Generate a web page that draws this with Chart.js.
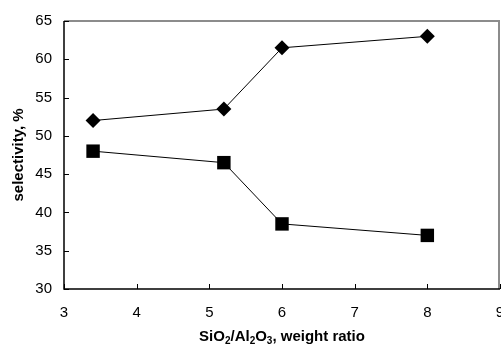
<!DOCTYPE html>
<html>
<head>
<meta charset="utf-8">
<script src="https://cdn.jsdelivr.net/npm/chart.js@4"></script>
<style>
  html, body { margin: 0; padding: 0; background: #fff; }
  #wrap { width: 501px; height: 348px; }
</style>
</head>
<body>
<div id="wrap"><canvas id="myChart" width="501" height="348"></canvas></div>
<script>
const ratios = [3.4, 5.2, 6, 8];
const upperSeries = [52, 53.5, 61.5, 63];
const lowerSeries = [48, 46.5, 38.5, 37];
const xTicks = [3, 4, 5, 6, 7, 8, 9];
const yTicks = [30, 35, 40, 45, 50, 55, 60, 65];

const FONT = '"Liberation Sans", Arial, sans-serif';

// frame, inside ticks, x labels and axis titles
const decor = {
    id: 'decor',
    beforeDatasetsDraw(chart) {
        const c = chart.ctx, a = chart.chartArea;
        const x = chart.scales.x, y = chart.scales.y;
        c.save();
        c.strokeStyle = '#8c8c8c';
        c.lineWidth = 2;
        c.beginPath();
        c.moveTo(a.left, a.top); c.lineTo(a.right - 1, a.top); c.lineTo(a.right - 1, a.bottom);
        c.stroke();
        c.strokeStyle = '#000';
        c.lineWidth = 1.5;
        c.beginPath();
        c.moveTo(a.left, a.top); c.lineTo(a.left, a.bottom); c.lineTo(a.right, a.bottom);
        c.stroke();
        c.lineWidth = 1;
        c.beginPath();
        yTicks.forEach(v => {
            const py = Math.round(y.getPixelForValue(v)) + 0.5;
            c.moveTo(a.left, py); c.lineTo(a.left + 5, py);
        });
        xTicks.forEach(v => {
            const px = Math.round(x.getPixelForValue(v)) + 0.5;
            c.moveTo(px, a.bottom); c.lineTo(px, a.bottom - 5);
        });
        c.stroke();
        c.restore();
    },
    afterDraw(chart) {
        const c = chart.ctx, a = chart.chartArea;
        const x = chart.scales.x;
        c.save();
        c.fillStyle = '#000';
        c.font = '15px ' + FONT;
        c.textAlign = 'center';
        c.textBaseline = 'middle';
        xTicks.forEach(v => c.fillText(String(v), x.getPixelForValue(v), 313));

        // x title with subscripts
        const parts = [['SiO', 0], ['2', 1], ['/Al', 0], ['2', 1], ['O', 0], ['3', 1], [', weight ratio', 0]];
        const big = 'bold 15px ' + FONT, small = 'bold 10px ' + FONT;
        let w = 0;
        parts.forEach(p => { c.font = p[1] ? small : big; w += c.measureText(p[0]).width; });
        let px = (a.left + a.right) / 2 - w / 2;
        c.textAlign = 'left';
        c.textBaseline = 'alphabetic';
        parts.forEach(p => {
            c.font = p[1] ? small : big;
            c.fillText(p[0], px, p[1] ? 344 : 341);
            px += c.measureText(p[0]).width;
        });

        // y title
        c.translate(19, (a.top + a.bottom) / 2);
        c.rotate(-Math.PI / 2);
        c.font = big;
        c.textAlign = 'center';
        c.textBaseline = 'middle';
        c.fillText('selectivity, %', 0, 0);
        c.restore();
    }
};

let ctx = document.getElementById('myChart').getContext('2d');
let myChart = new Chart(ctx, {
    type: 'scatter',
    data: {
        datasets: [{
            data: ratios.map((r, i) => ({ x: r, y: upperSeries[i] })),
            showLine: true,
            borderColor: '#000',
            borderWidth: 1,
            pointStyle: 'rectRot',
            pointRadius: 7.5,
            pointBackgroundColor: '#000',
            pointBorderColor: '#000',
            pointBorderWidth: 0
        }, {
            data: ratios.map((r, i) => ({ x: r, y: lowerSeries[i] })),
            showLine: true,
            borderColor: '#000',
            borderWidth: 1,
            pointStyle: 'rect',
            pointRadius: 9.5,
            pointBackgroundColor: '#000',
            pointBorderColor: '#000',
            pointBorderWidth: 0
        }]
    },
    options: {
        responsive: false,
        animation: false,
        layout: { autoPadding: false, padding: { left: 0, top: 18, right: 1, bottom: 0 } },
        plugins: {
            legend: { display: false },
            tooltip: { enabled: false }
        },
        scales: {
            x: {
                type: 'linear',
                min: 3, max: 9,
                grid: { display: false, drawTicks: false },
                border: { display: false },
                ticks: { display: false, stepSize: 1 },
                afterFit: s => { s.height = 59; }
            },
            y: {
                min: 30, max: 65,
                grid: { display: false, drawTicks: false },
                border: { display: false },
                ticks: {
                    stepSize: 5,
                    padding: 12,
                    color: '#000',
                    font: { family: FONT, size: 15 }
                },
                afterFit: s => { s.width = 64; }
            }
        }
    },
    plugins: [decor]
});
</script>
</body>
</html>
